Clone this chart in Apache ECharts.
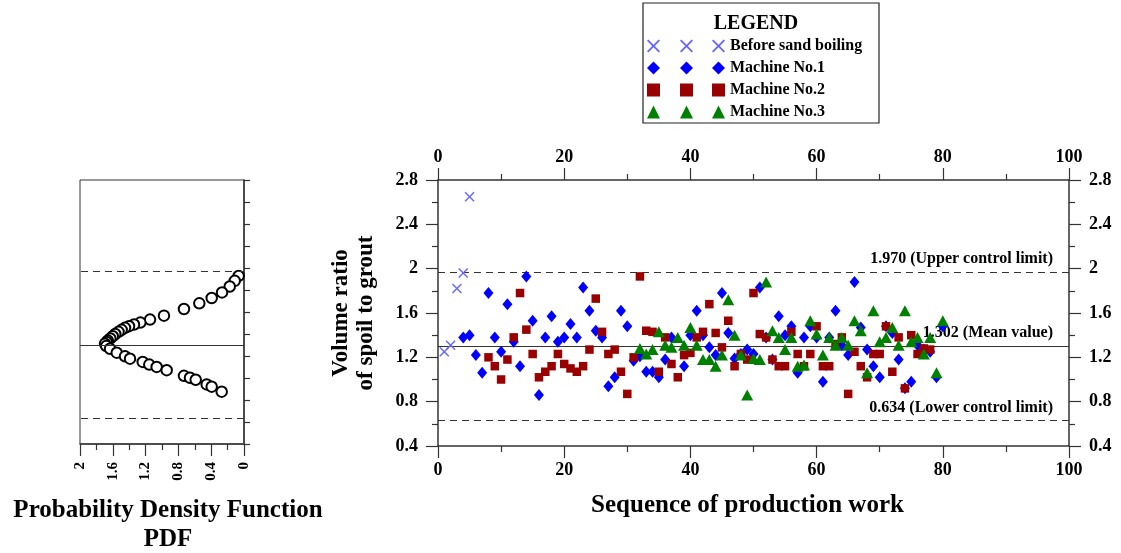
<!DOCTYPE html>
<html><head><meta charset="utf-8">
<script src="https://cdn.jsdelivr.net/npm/echarts@6/dist/echarts.min.js"></script>
<style>html,body{margin:0;padding:0;background:#fff}#c{width:1121px;height:553px}</style>
</head><body><div id="c"></div>
<script>
// ---- data ----
const seriesNames = ['Before sand boiling', 'Machine No.1', 'Machine No.2', 'Machine No.3'];
const beforeSandBoiling = [[1,1.25],[2,1.31],[3,1.82],[4,1.96],[5,2.65]];
const machine1 = [[4,1.38],[5,1.40],[6,1.22],[7,1.06],[8,1.78],[9,1.38],[10,1.25],[11,1.68],[12,1.34],[13,1.12],[14,1.93],[15,1.53],[16,0.86],[17,1.38],[18,1.57],[19,1.34],[20,1.38],[21,1.50],[22,1.38],[23,1.83],[24,1.62],[25,1.44],[26,1.38],[27,0.94],[28,1.02],[29,1.62],[30,1.48],[31,1.17],[32,1.21],[33,1.07],[34,1.07],[35,1.02],[36,1.18],[37,1.38],[39,1.12],[40,1.40],[41,1.62],[42,1.40],[43,1.29],[44,1.22],[45,1.78],[46,1.42],[47,1.19],[48,1.23],[49,1.27],[50,1.23],[51,1.83],[52,1.38],[53,1.18],[54,1.57],[55,1.40],[56,1.48],[57,1.06],[58,1.38],[59,1.48],[60,1.38],[61,0.98],[62,1.38],[63,1.62],[64,1.31],[65,1.22],[66,1.88],[67,1.47],[68,1.27],[69,1.12],[70,1.02],[71,1.48],[72,1.42],[73,1.18],[74,0.92],[75,0.98],[76,1.31],[77,1.27],[78,1.25],[79,1.02],[80,1.48]];
const machine2 = [[8,1.20],[9,1.12],[10,1.00],[11,1.18],[12,1.38],[13,1.78],[14,1.45],[15,1.23],[16,1.02],[17,1.07],[18,1.12],[19,1.23],[20,1.14],[21,1.10],[22,1.07],[23,1.12],[24,1.27],[25,1.73],[26,1.43],[27,1.23],[28,1.27],[29,1.07],[30,0.87],[31,1.20],[32,1.93],[33,1.44],[34,1.43],[35,1.07],[36,1.38],[37,1.14],[38,1.02],[39,1.22],[40,1.24],[41,1.38],[42,1.43],[43,1.68],[44,1.42],[45,1.29],[46,1.53],[47,1.12],[48,1.23],[49,1.18],[50,1.78],[51,1.41],[52,1.38],[53,1.18],[54,1.12],[55,1.12],[56,1.43],[57,1.23],[58,1.12],[59,1.23],[60,1.48],[61,1.12],[62,1.12],[63,1.32],[64,1.38],[65,0.87],[66,1.25],[67,1.12],[68,1.02],[69,1.23],[70,1.23],[71,1.48],[72,1.07],[73,1.38],[74,0.92],[75,1.40],[76,1.23],[77,1.28],[78,1.27]];
const machine3 = [[32,1.28],[33,1.23],[34,1.27],[35,1.43],[36,1.31],[37,1.29],[38,1.38],[39,1.31],[40,1.47],[41,1.31],[42,1.18],[43,1.18],[44,1.12],[45,1.22],[46,1.72],[47,1.40],[48,1.22],[49,0.86],[50,1.19],[51,1.18],[52,1.88],[53,1.44],[54,1.38],[55,1.27],[56,1.38],[57,1.12],[58,1.13],[59,1.53],[60,1.41],[61,1.22],[62,1.38],[63,1.31],[64,1.38],[65,1.31],[66,1.53],[67,1.44],[68,1.06],[69,1.62],[70,1.34],[71,1.38],[72,1.47],[73,1.31],[74,1.62],[75,1.34],[76,1.38],[77,1.23],[78,1.38],[79,1.06],[80,1.53]];
// PDF curve points: [density, volume ratio]
const pdfPoints = [[0.065,1.928],[0.113,1.883],[0.174,1.832],[0.268,1.778],[0.394,1.727],[0.545,1.679],[0.732,1.627],[0.976,1.567],[1.146,1.531],[1.264,1.504],[1.341,1.486],[1.402,1.471],[1.451,1.456],[1.492,1.438],[1.53,1.42],[1.57,1.40],[1.60,1.38],[1.63,1.36],[1.66,1.34],[1.674,1.327],[1.695,1.312],[1.68,1.29],[1.634,1.266],[1.552,1.23],[1.451,1.197],[1.39,1.176],[1.235,1.146],[1.155,1.122],[1.065,1.101],[0.943,1.071],[0.732,1.02],[0.659,1.002],[0.589,0.984],[0.455,0.942],[0.394,0.921],[0.272,0.876]];
const upperLimit = 1.970, meanValue = 1.302, lowerLimit = 0.634;
const seqRange = [0, 100], seqStep = 20;
const ratioRange = [0.4, 2.8], ratioStep = 0.4;
const pdfRange = [0, 2], pdfStep = 0.4;

// ---- styles ----
const F = '"Liberation Serif", "Times New Roman", serif';
const AX = '#333';
const lbl = {fontFamily: F, fontWeight: 'bold', fontSize: 18, color: '#000'};
const titleStyle = {fontFamily: F, fontWeight: 'bold', fontSize: 25, color: '#000'};
const line = {show: true, onZero: false, lineStyle: {color: AX, width: 1.5}};
const tick = {show: true, length: 12, lineStyle: {color: AX, width: 1.2}};
const minor = {show: true, splitNumber: 2, length: 6, lineStyle: {color: AX, width: 1.2}};
const X_PATH = 'path://M0,1L1,0L5,4L9,0L10,1L6,5L10,9L9,10L5,6L1,10L0,9L4,5Z';

function mainX(pos, extra) {
  return Object.assign({gridIndex: 1, type: 'value', position: pos, min: seqRange[0], max: seqRange[1], interval: seqStep,
    axisLine: line, axisTick: tick, minorTick: minor, splitLine: {show: false}, minorSplitLine: {show: false},
    axisLabel: Object.assign({margin: 15}, lbl)}, extra || {});
}
function mainY(pos, extra) {
  return Object.assign({gridIndex: 1, type: 'value', position: pos, min: ratioRange[0], max: ratioRange[1], interval: ratioStep,
    axisLine: line, axisTick: tick, minorTick: minor, splitLine: {show: false}, minorSplitLine: {show: false},
    axisLabel: Object.assign({margin: 20}, lbl)}, extra || {});
}
const legendText = {fontFamily: F, fontWeight: 'bold', fontSize: 16, color: '#000'};
const legendBase = {orient: 'vertical', padding: 0, itemWidth: 13, itemHeight: 13, selectedMode: false, data: seriesNames, textStyle: legendText};

const option = {
  animation: false,
  backgroundColor: '#fff',
  grid: [
    {left: 80, top: 180, width: 164, height: 264, show: true, borderColor: AX, borderWidth: 1, backgroundColor: 'transparent', outerBoundsMode: 'none'},
    {left: 438, top: 180, width: 631, height: 266, outerBoundsMode: 'none'}
  ],
  title: [{text: 'Probability Density Function\nPDF', left: 168, top: 496, padding: 0, textAlign: 'center',
    textStyle: Object.assign({lineHeight: 29}, titleStyle)}],
  graphic: [
    {type: 'rect', z: 0, shape: {x: 643, y: 3, width: 236, height: 120}, style: {fill: '#fff', stroke: '#222', lineWidth: 1.2}},
    {type: 'text', z: 1, style: {text: 'LEGEND', x: 756, y: 24, align: 'center', verticalAlign: 'middle', textAlign: 'center', textVerticalAlign: 'middle', font: 'bold 20px "Liberation Serif"', fill: '#000'}}
  ],
  legend: [
    Object.assign({}, legendBase, {left: 647, top: 39.5, itemGap: 9, formatter: () => ''}),
    Object.assign({}, legendBase, {left: 680, top: 39.5, itemGap: 9, formatter: () => ''}),
    Object.assign({}, legendBase, {left: 712, top: 38, itemGap: 6})
  ],
  xAxis: [
    {gridIndex: 0, type: 'value', min: pdfRange[0], max: pdfRange[1], interval: pdfStep, inverse: true, position: 'bottom',
      axisLine: line, axisTick: tick, minorTick: minor, splitLine: {show: false},
      axisLabel: Object.assign({}, lbl, {rotate: 90, margin: 18, fontSize: 15})},
    mainX('bottom', {name: 'Sequence of production work', nameLocation: 'middle', nameGap: 47,
      nameTextStyle: Object.assign({}, titleStyle, {padding: [0, 12, 0, 0]})}),
    mainX('top', {axisLabel: Object.assign({}, lbl, {margin: 14})})
  ],
  yAxis: [
    {gridIndex: 0, type: 'value', min: ratioRange[0], max: ratioRange[1], interval: 0.2, position: 'right',
      axisLine: line, axisTick: {show: true, length: 6, lineStyle: {color: AX, width: 1.2}}, axisLabel: {show: false}, splitLine: {show: false}},
    mainY('left', {name: 'Volume ratio\nof spoil to grout', nameLocation: 'middle', nameRotate: 90, nameGap: 59,
      nameTextStyle: Object.assign({}, titleStyle, {fontSize: 23, lineHeight: 25})}),
    mainY('right')
  ],
  series: [
    {name: 'PDF', type: 'scatter', xAxisIndex: 0, yAxisIndex: 0, data: pdfPoints, symbol: 'emptyCircle', symbolSize: 10.5,
      itemStyle: {color: '#000', borderColor: '#000', borderWidth: 1.8, opacity: 1},
      markLine: {silent: true, symbol: 'none', label: {show: false}, lineStyle: {color: AX, width: 1.2},
        data: [{yAxis: upperLimit, lineStyle: {type: [7, 5]}}, {yAxis: meanValue, lineStyle: {type: 'solid'}}, {yAxis: lowerLimit, lineStyle: {type: [7, 5]}}]}},
    {name: seriesNames[0], type: 'scatter', xAxisIndex: 1, yAxisIndex: 1, data: beforeSandBoiling, symbol: X_PATH, symbolSize: 10,
      itemStyle: {color: '#6666ff', opacity: 1}},
    {name: seriesNames[1], type: 'scatter', xAxisIndex: 1, yAxisIndex: 1, data: machine1, symbol: 'diamond', symbolSize: [10, 12],
      itemStyle: {color: '#0000ff', opacity: 1},
      markLine: {silent: true, symbol: 'none', z: 1,
        lineStyle: {color: AX, width: 1.2},
        label: {position: 'insideEndTop', distance: [16, 5], fontFamily: F, fontWeight: 'bold', fontSize: 16, color: '#000'},
        data: [
          {yAxis: upperLimit, lineStyle: {type: [7, 5]}, label: {formatter: upperLimit.toFixed(3) + ' (Upper control limit)'}},
          {yAxis: meanValue, lineStyle: {type: 'solid'}, label: {formatter: meanValue.toFixed(3) + ' (Mean value)'}},
          {yAxis: lowerLimit, lineStyle: {type: [7, 5]}, label: {formatter: lowerLimit.toFixed(3) + ' (Lower control limit)'}}
        ]}},
    {name: seriesNames[2], type: 'scatter', xAxisIndex: 1, yAxisIndex: 1, data: machine2, symbol: 'rect', symbolSize: 8.5,
      itemStyle: {color: '#990000', opacity: 1}},
    {name: seriesNames[3], type: 'scatter', xAxisIndex: 1, yAxisIndex: 1, data: machine3, symbol: 'triangle', symbolSize: [12, 11],
      itemStyle: {color: '#008000', opacity: 1}}
  ]
};
const chart = echarts.init(document.getElementById('c'), null, {renderer: 'canvas'});
chart.setOption(option);
</script></body></html>
